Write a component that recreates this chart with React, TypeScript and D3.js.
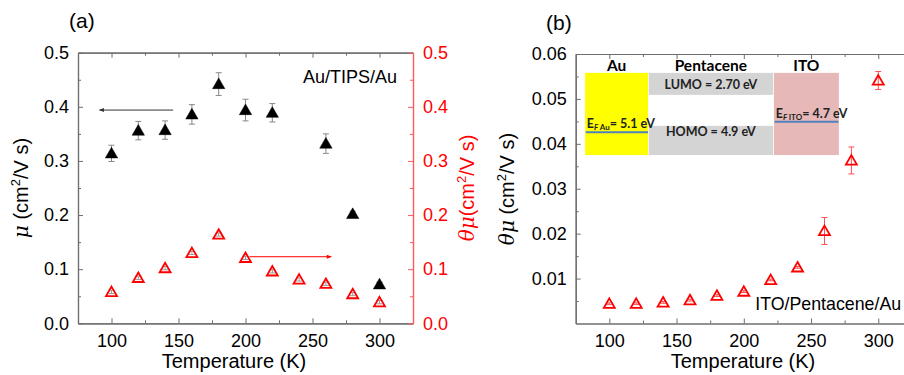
import React, { useEffect, useRef } from 'react';
import * as d3 from 'd3';

// (a) Au/TIPS/Au
const muTemps = [100, 120, 140, 160, 180, 200, 220, 260, 280, 300];
const muValues = [0.314, 0.356, 0.357, 0.386, 0.442, 0.394, 0.389, 0.332, 0.202, 0.072];
const muErrors = [0.015, 0.017, 0.017, 0.018, 0.021, 0.02, 0.017, 0.018, 0.005, 0.004];

const thetaTemps = [100, 120, 140, 160, 180, 200, 220, 240, 260, 280, 300];
const thetaValues = [0.058, 0.084, 0.102, 0.13, 0.164, 0.121, 0.096, 0.081, 0.073, 0.054, 0.039];
const thetaErrors = [0.003, 0.003, 0.003, 0.003, 0.003, 0.003, 0.003, 0.003, 0.003, 0.003, 0.003];

// (b) ITO/Pentacene/Au
const ptTemps = [100, 120, 140, 160, 180, 200, 220, 240, 260, 280, 300];
const ptValues = [0.0044, 0.0044, 0.0047, 0.0052, 0.0062, 0.0071, 0.0097, 0.0125, 0.0206, 0.0363, 0.0541];
const ptErrors = [0.0002, 0.0002, 0.0002, 0.0002, 0.0002, 0.0002, 0.0002, 0.0002, 0.003, 0.003, 0.002];

const xMajor = [100, 150, 200, 250, 300];
const xMinor = [75, 125, 175, 225, 275, 325];
const aMajor = [0, 0.1, 0.2, 0.3, 0.4, 0.5];
const aMinor = [0.05, 0.15, 0.25, 0.35, 0.45];
const bMajor = [0.01, 0.02, 0.03, 0.04, 0.05, 0.06];
const bMinor = [0.005, 0.015, 0.025, 0.035, 0.045, 0.055];

// arrows [x1, x2, y]
const muArrow = [146, 91, 0.394];
const thetaArrow = [203, 264, 0.123];

// energy diagram in panel (b) data units
const boxes = [
  { name: 'Au', x: [82, 128.8], y: [0.0375, 0.0558], fill: '#ffff00' },
  { name: 'LUMO', x: [129.3, 221.8], y: [0.0509, 0.0558], fill: '#d4d4d4' },
  { name: 'HOMO', x: [129.3, 221.8], y: [0.0375, 0.044], fill: '#d4d4d4' },
  { name: 'ITO', x: [222.4, 270.7], y: [0.0375, 0.0558], fill: '#e6b9b8' },
];
const layerTitles = [
  { text: 'Au', x: 105.4 },
  { text: 'Pentacene', x: 175.5 },
  { text: 'ITO', x: 246.5 },
];
const levelLabels = [
  { text: 'LUMO = 2.70 eV', x: 175.5, y: 0.0521 },
  { text: 'HOMO = 4.9 eV', x: 175.5, y: 0.0417 },
];
const fermiLevels = [
  { sub: 'Au', value: '= 5.1 eV', x: [82.5, 128.8], y: 0.0426 },
  { sub: 'ITO', value: '= 4.7 eV', x: [223, 270.3], y: 0.0449 },
];

const FONT = '"Liberation Sans", Arial, sans-serif';
const INSET_FONT = 'Lato, "Open Sans", sans-serif';
const RED = '#ff0000';

function yLabel(g: any, x: number, y: number, sym: string, gap: string, color: string) {
  const t = g.append('text')
    .attr('transform', `translate(${x},${y}) rotate(-90)`)
    .attr('text-anchor', 'middle')
    .attr('font-family', FONT)
    .attr('font-size', 20)
    .attr('fill', color);
  t.append('tspan').attr('font-family', '"DejaVu Serif", serif').attr('font-style', 'italic').text(sym);
  t.append('tspan').text(gap + '(cm');
  t.append('tspan').attr('font-size', 13).attr('dy', -8).text('2');
  t.append('tspan').attr('dy', 8).text('/V s)');
}

function axes(g: any, x: any, y: any, w: number, h: number, yMaj: number[], yMin: number[], yFmt: any, rightAxis: boolean) {
  const style = (sel: any, color: string, textColor: string) => {
    sel.select('.domain').attr('stroke', color).attr('stroke-width', 1.2);
    sel.selectAll('.tick line').attr('stroke', color);
    sel.selectAll('.tick text').attr('fill', textColor).attr('font-family', FONT).attr('font-size', 18);
  };
  const gray = '#6e6e6e';
  const minorX = xMinor.filter(v => v > x.domain()[0] && v < x.domain()[1]);
  // bottom
  const b = g.append('g').attr('transform', `translate(0,${h})`)
    .call(d3.axisBottom(x).tickValues(xMajor).tickSize(-5).tickSizeOuter(0).tickPadding(11));
  style(b, gray, '#000');
  const bm = g.append('g').attr('transform', `translate(0,${h})`)
    .call(d3.axisBottom(x).tickValues(minorX).tickSize(-3).tickSizeOuter(0).tickFormat(() => ''));
  style(bm, gray, '#000');
  // top
  const t = g.append('g')
    .call(d3.axisTop(x).tickValues(xMajor).tickSize(-5).tickSizeOuter(0).tickFormat(() => ''));
  style(t, gray, '#000');
  const tm = g.append('g')
    .call(d3.axisTop(x).tickValues(minorX).tickSize(-3).tickSizeOuter(0).tickFormat(() => ''));
  style(tm, gray, '#000');
  // left
  const l = g.append('g')
    .call(d3.axisLeft(y).tickValues(yMaj).tickSize(-5).tickSizeOuter(0).tickPadding(9).tickFormat(yFmt));
  style(l, gray, '#000');
  const lm = g.append('g')
    .call(d3.axisLeft(y).tickValues(yMin).tickSize(-3).tickSizeOuter(0).tickFormat(() => ''));
  style(lm, gray, '#000');
  if (rightAxis) {
    const r = g.append('g').attr('transform', `translate(${w},0)`)
      .call(d3.axisRight(y).tickValues(yMaj).tickSize(-5).tickSizeOuter(0).tickPadding(10).tickFormat(yFmt));
    style(r, '#ff5a5a', RED);
    const rm = g.append('g').attr('transform', `translate(${w},0)`)
      .call(d3.axisRight(y).tickValues(yMin).tickSize(-3).tickSizeOuter(0).tickFormat(() => ''));
    style(rm, '#ff5a5a', RED);
  }
}

function points(g: any, x: any, y: any, ts: number[], vs: number[], es: number[], filled: boolean, barColor: string) {
  const data = ts.map((t, i) => ({ t, v: vs[i], e: es[i] }));
  const bars = g.append('g').attr('stroke', barColor).attr('stroke-width', 1);
  data.forEach(d => {
    const x0 = x(d.t);
    bars.append('line').attr('x1', x0).attr('x2', x0).attr('y1', y(d.v - d.e)).attr('y2', y(d.v + d.e));
    bars.append('line').attr('x1', x0 - 3).attr('x2', x0 + 3).attr('y1', y(d.v - d.e)).attr('y2', y(d.v - d.e));
    bars.append('line').attr('x1', x0 - 3).attr('x2', x0 + 3).attr('y1', y(d.v + d.e)).attr('y2', y(d.v + d.e));
  });
  const sym = d3.symbol().type(d3.symbolTriangle).size(filled ? 66 : 52);
  g.append('g').selectAll('path').data(data).enter().append('path')
    .attr('transform', (d: any) => `translate(${x(d.t)},${y(d.v) + 1})`)
    .attr('d', sym)
    .attr('fill', filled ? '#000' : 'none')
    .attr('stroke', filled ? '#000' : RED)
    .attr('stroke-width', filled ? 0.5 : 1.8);
}

function arrow(g: any, x: any, y: any, a: number[], color: string, id: string) {
  g.append('defs').append('marker')
    .attr('id', id).attr('viewBox', '0 0 10 10').attr('refX', 9).attr('refY', 5)
    .attr('markerWidth', 7).attr('markerHeight', 5).attr('orient', 'auto')
    .append('path').attr('d', 'M0,1L10,5L0,9z').attr('fill', color);
  g.append('line')
    .attr('x1', x(a[0])).attr('x2', x(a[1])).attr('y1', y(a[2])).attr('y2', y(a[2]))
    .attr('stroke', color).attr('stroke-width', 1)
    .attr('marker-end', `url(#${id})`);
}

export default function App() {
  const ref = useRef<SVGSVGElement>(null);

  useEffect(() => {
    if (!ref.current) return;
    const svg = d3.select(ref.current);
    svg.selectAll('*').remove();

    // Panel (a)
    const aM = { left: 78, top: 52.7 };
    const aW = 335, aH = 270.6;
    const xa = d3.scaleLinear().domain([75, 325]).range([0, aW]);
    const ya = d3.scaleLinear().domain([0, 0.5]).range([aH, 0]);
    const ga = svg.append('g').attr('transform', `translate(${aM.left},${aM.top})`);
    axes(ga, xa, ya, aW, aH, aMajor, aMinor, d3.format('.1f'), true);
    arrow(ga, xa, ya, muArrow, '#333', 'arrBlack');
    arrow(ga, xa, ya, thetaArrow, RED, 'arrRed');
    points(ga, xa, ya, thetaTemps, thetaValues, thetaErrors, false, '#999');
    points(ga, xa, ya, muTemps, muValues, muErrors, true, '#888');
    ga.append('text').attr('x', aW - 16).attr('y', 30.5).attr('text-anchor', 'end')
      .attr('font-family', FONT).attr('font-size', 18).text('Au/TIPS/Au');
    svg.append('text').attr('x', 69).attr('y', 28).attr('font-family', FONT).attr('font-size', 21).text('(a)');
    svg.append('text').attr('x', 234).attr('y', 368).attr('text-anchor', 'middle')
      .attr('font-family', FONT).attr('font-size', 20).text('Temperature (K)');
    yLabel(svg, 28, 188, 'μ', ' ', '#000');
    yLabel(svg, 474, 188, 'θμ', '', RED);

    // Panel (b)
    const bM = { left: 575.7, top: 54 };
    const bW = 336.2, bH = 269.5;
    const xb = d3.scaleLinear().domain([75, 325]).range([0, bW]);
    const yb = d3.scaleLinear().domain([0, 0.06]).range([bH, 0]);
    const gb = svg.append('g').attr('transform', `translate(${bM.left},${bM.top})`);
    axes(gb, xb, yb, bW, bH, bMajor, bMinor, d3.format('.2f'), false);

    // energy diagram
    const ins = gb.append('g');
    boxes.forEach(b => {
      ins.append('rect')
        .attr('x', xb(b.x[0])).attr('width', xb(b.x[1]) - xb(b.x[0]))
        .attr('y', yb(b.y[1])).attr('height', yb(b.y[0]) - yb(b.y[1]))
        .attr('fill', b.fill);
    });
    layerTitles.forEach(l => {
      ins.append('text').attr('x', xb(l.x)).attr('y', yb(0.0558) - 1.5).attr('text-anchor', 'middle')
        .attr('font-family', INSET_FONT).attr('font-weight', 'bold').attr('font-size', 15.5).text(l.text);
    });
    levelLabels.forEach(l => {
      ins.append('text').attr('x', xb(l.x)).attr('y', yb(l.y)).attr('text-anchor', 'middle')
        .attr('font-family', INSET_FONT).attr('font-weight', 'bold').attr('font-size', 12.5).attr('fill', '#222').text(l.text);
    });
    fermiLevels.forEach(f => {
      ins.append('line').attr('x1', xb(f.x[0])).attr('x2', xb(f.x[1])).attr('y1', yb(f.y)).attr('y2', yb(f.y))
        .attr('stroke', '#4f81bd').attr('stroke-width', 2);
      const t = ins.append('text').attr('x', xb(f.x[0]) + 1).attr('y', yb(f.y) - 4)
        .attr('font-family', INSET_FONT).attr('font-weight', 'bold').attr('font-size', 12.5).attr('fill', '#222');
      t.append('tspan').text('E');
      t.append('tspan').attr('font-size', 8).attr('dy', 2).attr('font-style', 'italic').text('F ');
      t.append('tspan').attr('font-size', 8).text(f.sub);
      t.append('tspan').attr('dy', -2).text(f.value);
    });

    points(gb, xb, yb, ptTemps, ptValues, ptErrors, false, '#ff5050');
    gb.append('text').attr('x', xb(208.5)).attr('y', yb(0.0031)).attr('font-family', FONT)
      .attr('font-size', 17.8).text('ITO/Pentacene/Au');
    svg.append('text').attr('x', 546).attr('y', 30).attr('font-family', FONT).attr('font-size', 21).text('(b)');
    svg.append('text').attr('x', 743).attr('y', 368).attr('text-anchor', 'middle')
      .attr('font-family', FONT).attr('font-size', 20).text('Temperature (K)');
    yLabel(svg, 514, 189, 'θμ', ' ', '#000');
  }, []);

  return (
    <svg
      ref={ref}
      width={904}
      height={375}
      style={{ position: 'absolute', left: 0, top: 0, background: '#fff' }}
    />
  );
}
